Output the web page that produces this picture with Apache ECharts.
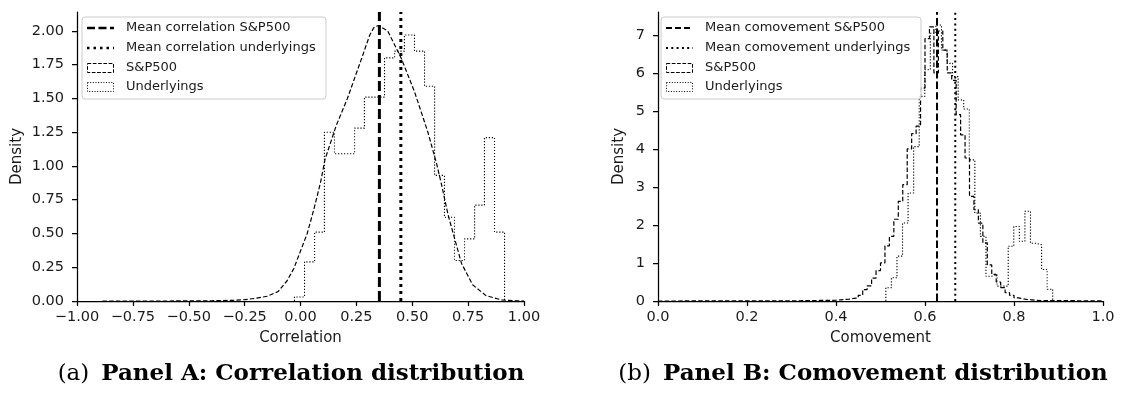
<!DOCTYPE html>
<html>
<head>
<meta charset="utf-8">
<script src="https://cdn.jsdelivr.net/npm/echarts@6/dist/echarts.min.js"></script>
<style>
html,body{margin:0;padding:0;background:#fff;}
#chart{width:1130px;height:394px;}
</style>
</head>
<body>
<div id="chart"></div>
<script>
// ---------- DATA ----------
// Panel A: S&P500 correlation density (fine-binned histogram outline), x and density
const spCorrX = [-0.886, -0.6, -0.4, -0.3, -0.25, -0.2, -0.15, -0.1, -0.06, -0.03, 0.0, 0.03, 0.06, 0.09, 0.11, 0.16, 0.21, 0.27, 0.31, 0.33, 0.35, 0.37, 0.39, 0.45, 0.51, 0.57, 0.61, 0.63, 0.66, 0.69, 0.72, 0.77, 0.83, 0.9, 0.95, 1.0];
const spCorrD = [0, 0, 0.002, 0.005, 0.01, 0.02, 0.035, 0.07, 0.15, 0.24, 0.37, 0.5, 0.68, 0.88, 1.05, 1.3, 1.5, 1.78, 1.97, 2.03, 2.04, 2.02, 2.0, 1.8, 1.55, 1.25, 1.01, 0.87, 0.64, 0.46, 0.28, 0.12, 0.04, 0.008, 0.002, 0];
// Panel A: Underlyings correlation histogram (bin edges and densities)
const undCorrEdges = [-0.027, 0.018, 0.063, 0.107, 0.152, 0.197, 0.242, 0.286, 0.331, 0.376, 0.421, 0.465, 0.510, 0.555, 0.600, 0.644, 0.689, 0.734, 0.779, 0.823, 0.868, 0.913];
const undCorrD = [0.03, 0.29, 0.51, 1.25, 1.09, 1.09, 1.28, 1.51, 1.51, 1.80, 1.85, 1.97, 1.85, 1.59, 0.93, 0.62, 0.30, 0.46, 0.71, 1.21, 0.51];
const meanCorrSP = 0.353;
const meanCorrUnd = 0.449;

// Panel B: S&P500 comovement histogram (bin edges and densities)
const spComEdges = [0.0, 0.30, 0.40, 0.41, 0.42, 0.43, 0.44, 0.45, 0.46, 0.47, 0.48, 0.49, 0.50, 0.51, 0.52, 0.53, 0.54, 0.55, 0.56, 0.57, 0.58, 0.59, 0.60, 0.61, 0.62, 0.63, 0.64, 0.65, 0.66, 0.67, 0.68, 0.69, 0.70, 0.71, 0.72, 0.73, 0.74, 0.75, 0.76, 0.77, 0.78, 0.79, 0.80, 0.81, 0.82, 0.83, 0.84, 0.85, 0.86, 1.0];
const spComD = [0.004, 0.02, 0.03, 0.04, 0.05, 0.07, 0.08, 0.15, 0.30, 0.40, 0.60, 0.80, 1.00, 1.45, 1.70, 2.15, 2.62, 3.06, 4.00, 4.40, 4.60, 5.60, 6.90, 7.21, 6.00, 7.10, 6.60, 6.00, 5.80, 4.90, 4.37, 3.76, 2.75, 2.40, 2.05, 1.53, 0.95, 0.70, 0.50, 0.35, 0.22, 0.15, 0.08, 0.06, 0.04, 0.03, 0.02, 0.01, 0.005];
// Panel B: Underlyings comovement histogram
const undComEdges = [0.512, 0.5245, 0.537, 0.5495, 0.562, 0.5745, 0.587, 0.5995, 0.612, 0.6245, 0.637, 0.6495, 0.662, 0.6745, 0.687, 0.6995, 0.712, 0.7245, 0.737, 0.7495, 0.762, 0.7745, 0.787, 0.7995, 0.812, 0.8245, 0.837, 0.8495, 0.862, 0.8745, 0.887];
const undComD = [0.35, 0.61, 1.18, 2.05, 2.84, 4.06, 5.38, 6.08, 7.04, 7.26, 6.6, 6.25, 5.9, 5.29, 5.05, 3.71, 2.31, 1.7, 0.65, 0.7, 0.39, 0.39, 1.44, 1.96, 1.57, 2.36, 1.52, 1.48, 0.83, 0.31];
const meanComSP = 0.627;
const meanComUnd = 0.668;

// Ticks and labels
const xTicksA = [-1, -0.75, -0.5, -0.25, 0, 0.25, 0.5, 0.75, 1];
const xTickLabelsA = ['\u22121.00', '\u22120.75', '\u22120.50', '\u22120.25', '0.00', '0.25', '0.50', '0.75', '1.00'];
const yTicksA = [0, 0.25, 0.5, 0.75, 1, 1.25, 1.5, 1.75, 2];
const yTickLabelsA = ['0.00', '0.25', '0.50', '0.75', '1.00', '1.25', '1.50', '1.75', '2.00'];
const xTicksB = [0, 0.2, 0.4, 0.6, 0.8, 1.0];
const xTickLabelsB = ['0.0', '0.2', '0.4', '0.6', '0.8', '1.0'];
const yTicksB = [0, 1, 2, 3, 4, 5, 6, 7];
const yTickLabelsB = ['0', '1', '2', '3', '4', '5', '6', '7'];

const legendLabelsA = ['Mean correlation S&P500', 'Mean correlation underlyings', 'S&P500', 'Underlyings'];
const legendLabelsB = ['Mean comovement S&P500', 'Mean comovement underlyings', 'S&P500', 'Underlyings'];
const captionA = ['(a)', 'Panel A: Correlation distribution'];
const captionB = ['(b)', 'Panel B: Comovement distribution'];

// ---------- BUILD ----------
const yMaxA = 2.14, yMaxB = 7.6;
function stepPath(edges, dens) {
  const pts = [[edges[0], 0]];
  for (let i = 0; i < dens.length; i++) {
    pts.push([edges[i], dens[i]]);
    pts.push([edges[i + 1], dens[i]]);
  }
  pts.push([edges[edges.length - 1], 0]);
  return pts;
}
function zip(xs, ys) { return xs.map((x, i) => [x, ys[i]]); }
function fmt(ticks, labels) {
  return function (v) {
    const i = ticks.findIndex(t => Math.abs(t - v) < 1e-6);
    return i >= 0 ? labels[i] : '';
  };
}
const TXT = '#1a1a1a';
const FONT = 'DejaVu Sans';
function xAxisCfg(idx, min, max, ticks, labels, name) {
  return {
    type: 'value', gridIndex: idx, min: min, max: max,
    name: name, nameLocation: 'middle', nameGap: 30,
    nameTextStyle: { fontFamily: FONT, fontSize: 15, color: TXT },
    axisLine: { show: true, onZero: false, lineStyle: { color: '#000', width: 1.25 } },
    axisTick: { show: true, length: 5, inside: false, customValues: ticks, lineStyle: { color: '#000', width: 1.25 } },
    axisLabel: { customValues: ticks, formatter: fmt(ticks, labels), fontFamily: FONT, fontSize: 14.5, color: TXT, margin: 9 },
    splitLine: { show: false }
  };
}
function yAxisCfg(idx, max, ticks, labels, gap) {
  return {
    type: 'value', gridIndex: idx, min: 0, max: max,
    name: 'Density', nameLocation: 'middle', nameGap: gap, nameRotate: 90,
    nameTextStyle: { fontFamily: FONT, fontSize: 15, color: TXT },
    axisLine: { show: true, onZero: false, lineStyle: { color: '#000', width: 1.25 } },
    axisTick: { show: true, length: 5, inside: false, customValues: ticks, lineStyle: { color: '#000', width: 1.25 } },
    axisLabel: { customValues: ticks, formatter: fmt(ticks, labels), fontFamily: FONT, fontSize: 14.5, color: TXT, margin: 13 },
    splitLine: { show: false }
  };
}
function lineSeries(xi, data, width, dash) {
  return {
    type: 'line', xAxisIndex: xi, yAxisIndex: xi, data: data,
    showSymbol: false, symbol: 'none', silent: true, animation: false,
    lineStyle: { color: '#000', width: width, type: dash, cap: 'butt' }
  };
}
const DASH_THIN = [4.5, 2.2];
const DOT_THIN = [1.2, 1.8];

const series = [
  lineSeries(0, zip(spCorrX, spCorrD), 1.2, DASH_THIN),
  lineSeries(0, stepPath(undCorrEdges, undCorrD), 1.1, DOT_THIN),
  lineSeries(0, [[meanCorrSP, 0], [meanCorrSP, yMaxA]], 3, [10, 4]),
  lineSeries(0, [[meanCorrUnd, 0], [meanCorrUnd, yMaxA]], 3, [3, 4]),
  lineSeries(1, stepPath(spComEdges, spComD), 1.2, DASH_THIN),
  lineSeries(1, stepPath(undComEdges, undComD), 1.1, DOT_THIN),
  lineSeries(1, [[meanComSP, 0], [meanComSP, yMaxB]], 2, [7.4, 3.2]),
  lineSeries(1, [[meanComUnd, 0], [meanComUnd, yMaxB]], 2, [2, 3.3])
];

// Legend boxes drawn as graphics
function legendGraphics(x0, y0, w, h, labels, meanW, meanDash, dotDash) {
  const els = [];
  els.push({ type: 'rect', z: 100, shape: { x: x0, y: y0, width: w, height: h, r: 3 },
    style: { fill: 'rgba(255,255,255,0.85)', stroke: '#cccccc', lineWidth: 1 } });
  const rows = [y0 + 11, y0 + 31, y0 + 51, y0 + 70];
  const hx = x0 + 5, hw = 27, tx = x0 + 44;
  els.push({ type: 'line', z: 101, shape: { x1: hx, y1: rows[0], x2: hx + hw, y2: rows[0] },
    style: { stroke: '#000', lineWidth: meanW, lineDash: meanDash } });
  els.push({ type: 'line', z: 101, shape: { x1: hx, y1: rows[1], x2: hx + hw, y2: rows[1] },
    style: { stroke: '#000', lineWidth: meanW, lineDash: dotDash } });
  els.push({ type: 'rect', z: 101, shape: { x: hx + 0.5, y: rows[2] - 4.5, width: hw - 1, height: 9 },
    style: { fill: 'none', stroke: '#000', lineWidth: 1, lineDash: [3.7, 1.6] } });
  els.push({ type: 'rect', z: 101, shape: { x: hx + 0.5, y: rows[3] - 4.5, width: hw - 1, height: 9 },
    style: { fill: 'none', stroke: '#000', lineWidth: 1, lineDash: [1, 1.65] } });
  labels.forEach((t, i) => {
    els.push({ type: 'text', z: 101, style: { text: t, x: tx, y: rows[i], fill: TXT,
      font: '13px "DejaVu Sans"', verticalAlign: 'middle', align: 'left' } });
  });
  return els;
}
function caption(cx, cy, parts) {
  return { type: 'text', z: 101, style: {
    text: '{n|' + parts[0] + '}{s| }{b|' + parts[1] + '}', x: cx, y: cy, align: 'center', verticalAlign: 'middle',
    rich: {
      n: { fontFamily: 'DejaVu Serif', fontSize: 23, color: '#000' },
      s: { fontFamily: 'DejaVu Serif', fontSize: 23, width: 12 },
      b: { fontFamily: 'DejaVu Serif', fontSize: 23, fontWeight: 'bold', color: '#000' }
    } } };
}

const graphics = []
  .concat(legendGraphics(82, 17, 244, 82, legendLabelsA, 2.5, [8, 3.5], [2.5, 4]))
  .concat(legendGraphics(661, 17, 260, 82, legendLabelsB, 2, [6, 3], [2, 3.3]))
  .concat([caption(291, 374, captionA), caption(863, 374, captionB)]);

const chart = echarts.init(document.getElementById('chart'), null, { renderer: 'canvas' });
chart.setOption({
  animation: false,
  backgroundColor: '#fff',
  grid: [
    { left: 77, top: 12, width: 447, height: 289, containLabel: false },
    { left: 658, top: 12, width: 445, height: 289, containLabel: false }
  ],
  xAxis: [
    xAxisCfg(0, -1, 1, xTicksA, xTickLabelsA, 'Correlation'),
    xAxisCfg(1, 0, 1, xTicksB, xTickLabelsB, 'Comovement')
  ],
  yAxis: [
    yAxisCfg(0, yMaxA, yTicksA, yTickLabelsA, 52),
    yAxisCfg(1, yMaxB, yTicksB, yTickLabelsB, 31)
  ],
  series: series,
  graphic: graphics
});
</script>
</body>
</html>
